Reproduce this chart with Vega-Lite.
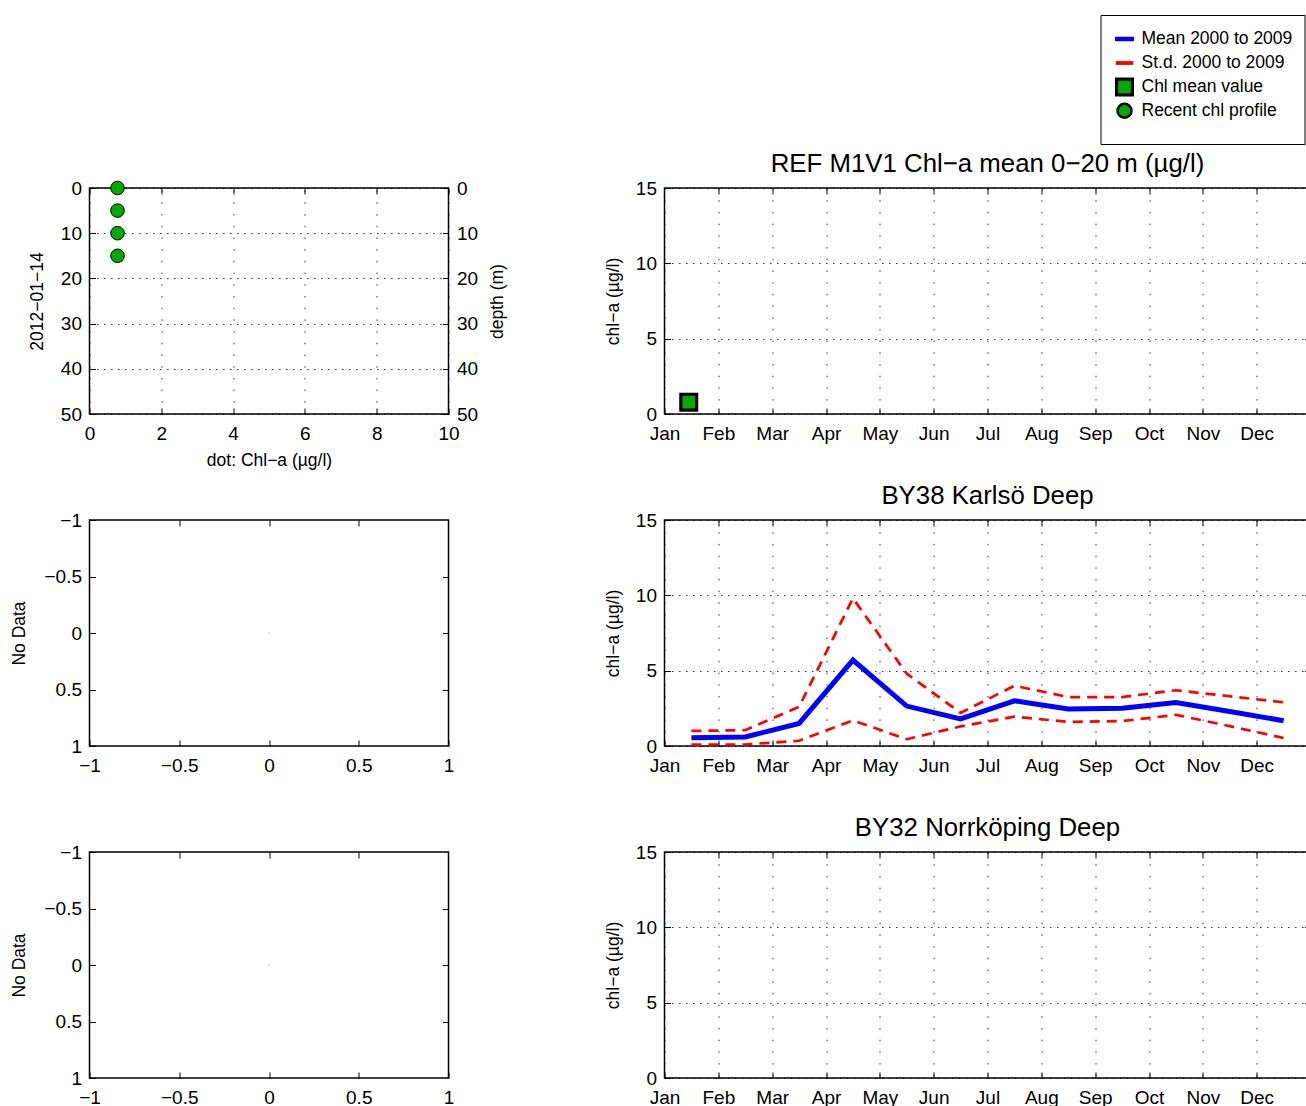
{
  "$schema": "https://vega.github.io/schema/vega-lite/v6.json",
  "background": "white",
  "padding": {"left": 9.5, "top": 14, "right": 0, "bottom": 0},
  "autosize": {"type": "pad"},
  "columns": 2,
  "bounds": "flush",
  "spacing": {"row": 106, "column": 216},
  "datasets": {
    "profile": [
      {"chl": 0.78, "depth": 0},
      {"chl": 0.78, "depth": 5},
      {"chl": 0.78, "depth": 10},
      {"chl": 0.78, "depth": 15}
    ],
    "chlmean": [
      {"month": 0.45, "chl": 0.78, "series": "Chl mean value"}
    ],
    "by38": [
      {"month": 0.5, "mean": 0.55, "upper": 1.0, "lower": 0.1},
      {"month": 1.5, "mean": 0.6, "upper": 1.05, "lower": 0.1},
      {"month": 2.5, "mean": 1.5, "upper": 2.6, "lower": 0.35},
      {"month": 3.5, "mean": 5.7, "upper": 9.8, "lower": 1.7},
      {"month": 4.5, "mean": 2.65, "upper": 4.8, "lower": 0.45},
      {"month": 5.5, "mean": 1.8, "upper": 2.2, "lower": 1.3},
      {"month": 6.5, "mean": 3.0, "upper": 4.0, "lower": 1.95},
      {"month": 7.5, "mean": 2.45, "upper": 3.25, "lower": 1.6},
      {"month": 8.5, "mean": 2.5, "upper": 3.25, "lower": 1.65},
      {"month": 9.5, "mean": 2.88, "upper": 3.7, "lower": 2.07},
      {"month": 10.5, "mean": 2.29, "upper": 3.3, "lower": 1.32},
      {"month": 11.5, "mean": 1.68, "upper": 2.9, "lower": 0.53}
    ],
    "nodata": [{"x": 0, "y": 0}]
  },
  "concat": [
    {
      "width": 359,
      "height": 226,
      "data": {"name": "profile"},
      "layer": [
        {
          "mark": {"type": "point", "filled": true, "fill": "#00aa00", "stroke": "black", "strokeWidth": 1, "size": 185, "opacity": 1},
          "encoding": {
            "x": {"field": "chl", "type": "quantitative", "scale": {"domain": [0, 10], "nice": false, "zero": false},
                  "axis": {"title": "dot: Chl−a (µg/l)", "values": [0, 2, 4, 6, 8, 10], "grid": true, "titlePadding": 8, "labelPadding": 16}},
            "y": {"field": "depth", "type": "quantitative", "scale": {"domain": [0, 50], "reverse": true, "nice": false},
                  "axis": {"title": "2012−01−14", "values": [0, 10, 20, 30, 40, 50], "grid": true, "titlePadding": 14}}
          }
        },
        {
          "mark": {"type": "point", "opacity": 0},
          "encoding": {
            "x": {"field": "chl", "type": "quantitative",
                  "axis": {"orient": "top", "labels": false, "title": null, "grid": false, "values": [0, 2, 4, 6, 8, 10]}},
            "y": {"field": "depth", "type": "quantitative",
                  "axis": {"orient": "right", "title": "depth (m)", "values": [0, 10, 20, 30, 40, 50], "grid": false,
                           "titleAngle": 270, "titleBaseline": "top", "titlePadding": 11}}
          }
        }
      ],
      "resolve": {"axis": {"x": "independent", "y": "independent"}}
    },
    {
      "width": 646,
      "height": 226,
      "title": "REF M1V1 Chl−a mean 0−20 m (µg/l)",
      "data": {"name": "chlmean"},
      "layer": [
        {
          "mark": {"type": "point", "filled": true, "opacity": 1},
          "encoding": {
            "x": {"field": "month", "type": "quantitative", "scale": {"domain": [0, 12], "nice": false},
                  "axis": {"title": null, "values": [0, 1, 2, 3, 4, 5, 6, 7, 8, 9, 10, 11], "grid": true, "labelPadding": 16,
                           "labelExpr": "['Jan','Feb','Mar','Apr','May','Jun','Jul','Aug','Sep','Oct','Nov','Dec'][datum.value]"}},
            "y": {"field": "chl", "type": "quantitative", "scale": {"domain": [0, 15], "nice": false},
                  "axis": {"title": "chl−a (µg/l)", "values": [0, 5, 10, 15], "grid": true, "titlePadding": 13}},
            "fill": {"field": "series", "type": "nominal",
                     "scale": {"domain": ["Mean 2000 to 2009", "St.d. 2000 to 2009", "Chl mean value", "Recent chl profile"],
                               "range": ["#0000ff", "#ff0000", "#00aa00", "#00aa00"]},
                     "legend": {
                       "orient": "none", "legendX": 1011, "legendY": -173,
                       "title": " ", "titleOrient": "bottom", "titleFontSize": 9, "titlePadding": 0,
                       "strokeColor": "black", "fillColor": "white", "padding": 12,
                       "rowPadding": -5, "labelOffset": 5, "gridAlign": "all",
                       "labelFontSize": 17.5, "labelColor": "black", "symbolOpacity": 1
                     }},
            "stroke": {"field": "series", "type": "nominal",
                       "scale": {"domain": ["Mean 2000 to 2009", "St.d. 2000 to 2009", "Chl mean value", "Recent chl profile"],
                                 "range": ["#0000ff", "#ff0000", "#000000", "#000000"]}},
            "shape": {"field": "series", "type": "nominal",
                      "scale": {"domain": ["Mean 2000 to 2009", "St.d. 2000 to 2009", "Chl mean value", "Recent chl profile"],
                                "range": ["stroke", "stroke", "square", "circle"]}},
            "size": {"field": "series", "type": "ordinal",
                     "scale": {"domain": ["Mean 2000 to 2009", "St.d. 2000 to 2009", "Chl mean value", "Recent chl profile"],
                               "range": [361, 196, 256, 201]}},
            "strokeWidth": {"field": "series", "type": "ordinal",
                            "scale": {"domain": ["Mean 2000 to 2009", "St.d. 2000 to 2009", "Chl mean value", "Recent chl profile"],
                                      "range": [4.5, 2.5, 1, 1]}}
          }
        },
        {
          "mark": {"type": "point", "opacity": 0},
          "encoding": {
            "x": {"field": "month", "type": "quantitative",
                  "axis": {"orient": "top", "labels": false, "title": null, "grid": false, "values": [1, 2, 3, 4, 5, 6, 7, 8, 9, 10, 11]}},
            "y": {"field": "chl", "type": "quantitative",
                  "axis": {"orient": "right", "labels": false, "title": null, "grid": false, "values": [5, 10]}}
          }
        }
      ],
      "resolve": {"axis": {"x": "independent", "y": "independent"}}
    },
    {
      "width": 359,
      "height": 226,
      "data": {"name": "nodata"},
      "layer": [
        {
          "mark": {"type": "point", "filled": true, "color": "#888888", "size": 2},
          "encoding": {
            "x": {"field": "x", "type": "quantitative", "scale": {"domain": [-1, 1], "nice": false, "zero": false},
                  "axis": {"title": null, "values": [-1, -0.5, 0, 0.5, 1], "format": "~g", "grid": false, "labelPadding": 16}},
            "y": {"field": "y", "type": "quantitative", "scale": {"domain": [-1, 1], "reverse": true, "nice": false, "zero": false},
                  "axis": {"title": "No Data", "values": [-1, -0.5, 0, 0.5, 1], "format": "~g", "grid": false, "titlePadding": 15.5}}
          }
        },
        {
          "mark": {"type": "point", "opacity": 0},
          "encoding": {
            "x": {"field": "x", "type": "quantitative",
                  "axis": {"orient": "top", "labels": false, "title": null, "grid": false, "values": [-0.5, 0, 0.5]}},
            "y": {"field": "y", "type": "quantitative",
                  "axis": {"orient": "right", "labels": false, "title": null, "grid": false, "values": [-0.5, 0, 0.5]}}
          }
        }
      ],
      "resolve": {"axis": {"x": "independent", "y": "independent"}}
    },
    {
      "width": 646,
      "height": 226,
      "title": "BY38 Karlsö Deep",
      "data": {"name": "by38"},
      "layer": [
        {
          "mark": {"type": "line", "color": "#ff0000", "strokeWidth": 2.7, "strokeDash": [10, 7]},
          "encoding": {
            "x": {"field": "month", "type": "quantitative", "scale": {"domain": [0, 12], "nice": false},
                  "axis": {"title": null, "values": [0, 1, 2, 3, 4, 5, 6, 7, 8, 9, 10, 11], "grid": true, "labelPadding": 16,
                           "labelExpr": "['Jan','Feb','Mar','Apr','May','Jun','Jul','Aug','Sep','Oct','Nov','Dec'][datum.value]"}},
            "y": {"field": "upper", "type": "quantitative", "scale": {"domain": [0, 15], "nice": false},
                  "axis": {"title": "chl−a (µg/l)", "values": [0, 5, 10, 15], "grid": true, "titlePadding": 13}}
          }
        },
        {
          "mark": {"type": "line", "color": "#ff0000", "strokeWidth": 2.7, "strokeDash": [10, 7]},
          "encoding": {
            "x": {"field": "month", "type": "quantitative", "axis": null},
            "y": {"field": "lower", "type": "quantitative", "axis": null}
          }
        },
        {
          "mark": {"type": "line", "color": "#0000ff", "strokeWidth": 5},
          "encoding": {
            "x": {"field": "month", "type": "quantitative", "axis": null},
            "y": {"field": "mean", "type": "quantitative", "axis": null}
          }
        },
        {
          "mark": {"type": "point", "opacity": 0},
          "encoding": {
            "x": {"field": "month", "type": "quantitative",
                  "axis": {"orient": "top", "labels": false, "title": null, "grid": false, "values": [1, 2, 3, 4, 5, 6, 7, 8, 9, 10, 11]}},
            "y": {"field": "mean", "type": "quantitative",
                  "axis": {"orient": "right", "labels": false, "title": null, "grid": false, "values": [5, 10]}}
          }
        }
      ],
      "resolve": {"axis": {"x": "independent", "y": "independent"}}
    },
    {
      "width": 359,
      "height": 226,
      "data": {"name": "nodata"},
      "layer": [
        {
          "mark": {"type": "point", "filled": true, "color": "#888888", "size": 2},
          "encoding": {
            "x": {"field": "x", "type": "quantitative", "scale": {"domain": [-1, 1], "nice": false, "zero": false},
                  "axis": {"title": null, "values": [-1, -0.5, 0, 0.5, 1], "format": "~g", "grid": false, "labelPadding": 16}},
            "y": {"field": "y", "type": "quantitative", "scale": {"domain": [-1, 1], "reverse": true, "nice": false, "zero": false},
                  "axis": {"title": "No Data", "values": [-1, -0.5, 0, 0.5, 1], "format": "~g", "grid": false, "titlePadding": 15.5}}
          }
        },
        {
          "mark": {"type": "point", "opacity": 0},
          "encoding": {
            "x": {"field": "x", "type": "quantitative",
                  "axis": {"orient": "top", "labels": false, "title": null, "grid": false, "values": [-0.5, 0, 0.5]}},
            "y": {"field": "y", "type": "quantitative",
                  "axis": {"orient": "right", "labels": false, "title": null, "grid": false, "values": [-0.5, 0, 0.5]}}
          }
        }
      ],
      "resolve": {"axis": {"x": "independent", "y": "independent"}}
    },
    {
      "width": 646,
      "height": 226,
      "title": "BY32 Norrköping Deep",
      "data": {"values": []},
      "layer": [
        {
          "mark": {"type": "line", "color": "#0000ff", "strokeWidth": 5},
          "encoding": {
            "x": {"field": "month", "type": "quantitative", "scale": {"domain": [0, 12], "nice": false},
                  "axis": {"title": null, "values": [0, 1, 2, 3, 4, 5, 6, 7, 8, 9, 10, 11], "grid": true, "labelPadding": 16,
                           "labelExpr": "['Jan','Feb','Mar','Apr','May','Jun','Jul','Aug','Sep','Oct','Nov','Dec'][datum.value]"}},
            "y": {"field": "mean", "type": "quantitative", "scale": {"domain": [0, 15], "nice": false},
                  "axis": {"title": "chl−a (µg/l)", "values": [0, 5, 10, 15], "grid": true, "titlePadding": 13}}
          }
        },
        {
          "mark": {"type": "point", "opacity": 0},
          "encoding": {
            "x": {"field": "month", "type": "quantitative",
                  "axis": {"orient": "top", "labels": false, "title": null, "grid": false, "values": [1, 2, 3, 4, 5, 6, 7, 8, 9, 10, 11]}},
            "y": {"field": "mean", "type": "quantitative",
                  "axis": {"orient": "right", "labels": false, "title": null, "grid": false, "values": [5, 10]}}
          }
        }
      ],
      "resolve": {"axis": {"x": "independent", "y": "independent"}}
    }
  ],
  "config": {
    "font": "Liberation Sans",
    "view": {"stroke": "black", "strokeWidth": 1.5},
    "axis": {
      "domain": false,
      "ticks": true,
      "tickColor": "black",
      "tickSize": -6,
      "tickWidth": 1,
      "labelPadding": 14,
      "labelFlush": false,
      "labelFontSize": 19,
      "labelColor": "black",
      "labelFont": "Liberation Sans",
      "titleFont": "Liberation Sans",
      "titleFontSize": 17.5,
      "titleFontWeight": "normal",
      "titleColor": "black",
      "gridColor": "black",
      "gridWidth": 1,
      "gridOpacity": 0.8
    },
    "axisX": {"gridDash": [1.5, 10.2]},
    "axisY": {"gridDash": [1.5, 5.5]},
    "title": {"fontSize": 25.8, "fontWeight": "normal", "color": "black", "font": "Liberation Sans", "offset": 1.3, "frame": "group", "anchor": "middle"},
    "legend": {"labelFont": "Liberation Sans", "titleFont": "Liberation Sans"}
  }
}
